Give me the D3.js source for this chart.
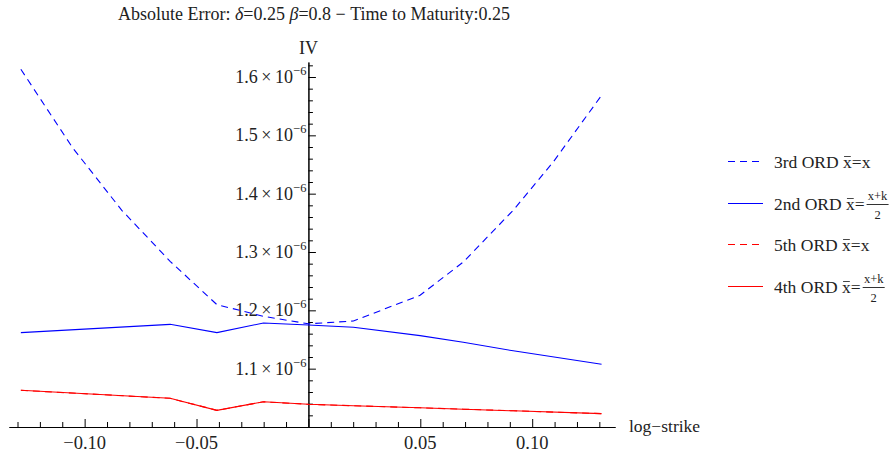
<!DOCTYPE html>
<html lang="en">
<head>
<meta charset="UTF-8">
<title>Absolute Error</title>
<script src="https://cdn.jsdelivr.net/npm/d3@7"></script>
<style>
  body { margin: 0; background: #fff; }
  text { font-family: "Liberation Serif", "Times New Roman", serif; fill: #222; }
</style>
</head>
<body>
<script>
// log-strike grids (the 3rd order curve has more points)
var strikesCoarse = [-0.1285, -0.0618, -0.0409, -0.0201, 0, 0.0201, 0.0499, 0.0692, 0.0915, 0.131];
var strikesFine = [-0.1285, -0.1054, -0.0834, -0.0618, -0.0409, -0.0201, 0, 0.0201, 0.0499, 0.0692, 0.0915, 0.1094, 0.131];

// absolute error, in units of 1e-6
var ord3 = [1.6132, 1.4788, 1.3715, 1.2840, 1.2098, 1.1897, 1.1769, 1.1817, 1.2258, 1.2828, 1.3715, 1.4543, 1.5686];
var ord2 = [1.1618, 1.1760, 1.1618, 1.1783, 1.1748, 1.1709, 1.1567, 1.1452, 1.1306, 1.1075];
var ord5 = [1.0629, 1.0492, 1.0286, 1.0432, 1.0389, 1.0365, 1.0329, 1.0305, 1.0278, 1.0229];
var ord4 = [1.0629, 1.0492, 1.0286, 1.0432, 1.0389, 1.0365, 1.0329, 1.0305, 1.0278, 1.0229];

var xLabels = [-0.10, -0.05, 0.05, 0.10];
var yLabels = [1.1, 1.2, 1.3, 1.4, 1.5, 1.6];
var legendNames = ["3rd ORD", "2nd ORD", "5th ORD", "4th ORD"];

var width = 890, height = 454;
var svg = d3.select("body").append("svg").attr("width", width).attr("height", height);

var x = d3.scaleLinear().domain([-0.1338, 0.137]).range([9, 615]);
var y = d3.scaleLinear().domain([1.0, 1.6]).range([427, 77]);
var x0 = x(0), y0 = y(1.0);

// x axis: minor ticks every 0.01, major every 0.05
var minorX = d3.range(-13, 14).map(function(i){ return i / 100; }).filter(function(v){ return Math.abs(Math.round(v*100)) % 5 != 0; });
var majorX = [-0.10, -0.05, 0, 0.05, 0.10];
svg.append("g").attr("transform", "translate(0," + y0 + ")")
   .call(d3.axisBottom(x).tickValues(minorX).tickSizeInner(-5).tickSizeOuter(0).tickFormat(""));
svg.append("g").attr("transform", "translate(0," + y0 + ")")
   .call(d3.axisBottom(x).tickValues(majorX).tickSizeInner(-8).tickSizeOuter(0).tickFormat(""));

// y axis: ticks on the right side of the axis
var yAll = d3.scaleLinear().domain([1.0, 1.6257]).range([y0, y(1.6257)]);
var minorY = d3.range(0, 32).map(function(i){ return 1 + i * 0.02; }).filter(function(v){ return Math.round(v*100) % 10 != 0; });
var majorY = [1.1, 1.2, 1.3, 1.4, 1.5, 1.6];
svg.append("g").attr("transform", "translate(" + x0 + ",0)")
   .call(d3.axisRight(yAll).tickValues(minorY).tickSizeInner(4.5).tickSizeOuter(0).tickFormat(""));
svg.append("g").attr("transform", "translate(" + x0 + ",0)")
   .call(d3.axisRight(yAll).tickValues(majorY).tickSizeInner(7.5).tickSizeOuter(0).tickFormat(""));

svg.selectAll(".domain").attr("stroke", "#000").attr("stroke-width", 1);
svg.selectAll(".tick line").attr("stroke", "#000");

// tick labels
svg.selectAll(".xlab").data(xLabels).enter().append("text")
   .attr("x", function(d){ return x(d); }).attr("y", y0 + 22)
   .attr("text-anchor", "middle").style("font-size", "18.5px")
   .text(function(d){ return (d < 0 ? "\u2212" : "") + Math.abs(d).toFixed(2); });

var yl = svg.selectAll(".ylab").data(yLabels).enter().append("text")
   .attr("x", x0 - 2).attr("y", function(d){ return y(d) + 6; })
   .attr("text-anchor", "end").style("font-size", "18px");
yl.append("tspan").text(function(d){ return d.toFixed(1) + "\u2009\u00d7\u200910"; });
yl.append("tspan").attr("dy", -8).style("font-size", "12.5px").text("\u22126");

svg.append("text").attr("x", 629).attr("y", y0 + 5).style("font-size", "17.5px").text("log\u2212strike");
svg.append("text").attr("x", x0).attr("y", 54).attr("text-anchor", "middle").style("font-size", "18px").text("IV");

var title = svg.append("text").attr("x", 314).attr("y", 20).attr("text-anchor", "middle").style("font-size", "18px");
title.append("tspan").text("Absolute Error: ");
title.append("tspan").style("font-style", "italic").text("\u03b4");
title.append("tspan").text("=0.25 ");
title.append("tspan").style("font-style", "italic").text("\u03b2");
title.append("tspan").text("=0.8 \u2212 Time to Maturity:0.25");

// curves
var line = function(xs){
  return d3.line().x(function(d, i){ return x(xs[i]); }).y(function(d){ return y(d); });
};
var series = [
  {vals: ord5, xs: strikesCoarse, color: "#ff0000", dash: "7,5"},
  {vals: ord4, xs: strikesCoarse, color: "#ff0000", dash: "none"},
  {vals: ord2, xs: strikesCoarse, color: "#0000ff", dash: "none"},
  {vals: ord3, xs: strikesFine, color: "#0000ff", dash: "7,5"}
];
series.forEach(function(s){
  svg.append("path").datum(s.vals)
     .attr("d", line(s.xs))
     .style("fill", "none").style("stroke", s.color).style("stroke-width", 1.1)
     .style("stroke-dasharray", s.dash);
});

// legend
var legend = [
  {name: legendNames[0], color: "#0000ff", dash: "7,5", frac: false},
  {name: legendNames[1], color: "#0000ff", dash: "none", frac: true},
  {name: legendNames[2], color: "#ff0000", dash: "7,5", frac: false},
  {name: legendNames[3], color: "#ff0000", dash: "none", frac: true}
];
legend.forEach(function(d, i){
  var cy = Math.round(163 + i * 41.5);
  svg.append("path").attr("d", "M728," + (cy - 1.5) + "H763")
     .style("fill", "none").style("stroke", d.color).style("stroke-width", 1.2)
     .style("stroke-dasharray", d.dash);
  var t = svg.append("text").attr("x", 774).attr("y", cy + 5).style("font-size", "17.5px");
  var head = d.name + " ";
  t.text(head + "x" + (d.frac ? "=" : "=x"));
  // bar over the x
  var bx = 774 + t.node().getSubStringLength(0, head.length);
  var bw = t.node().getSubStringLength(head.length, 1);
  svg.append("rect").attr("x", bx + 1).attr("y", cy - 7).attr("width", bw - 2).attr("height", 0.9)
     .style("fill", "#333");
  if (d.frac) {
    var fx = 774 + t.node().getComputedTextLength() + 2;
    svg.append("text").attr("x", fx + 11).attr("y", cy - 5).attr("text-anchor", "middle")
       .style("font-size", "12.5px").text("x+k");
    svg.append("rect").attr("x", fx).attr("y", cy - 1).attr("width", 22).attr("height", 1)
       .style("fill", "#333");
    svg.append("text").attr("x", fx + 11).attr("y", cy + 14).attr("text-anchor", "middle")
       .style("font-size", "12.5px").text("2");
  }
});
</script>
</body>
</html>
